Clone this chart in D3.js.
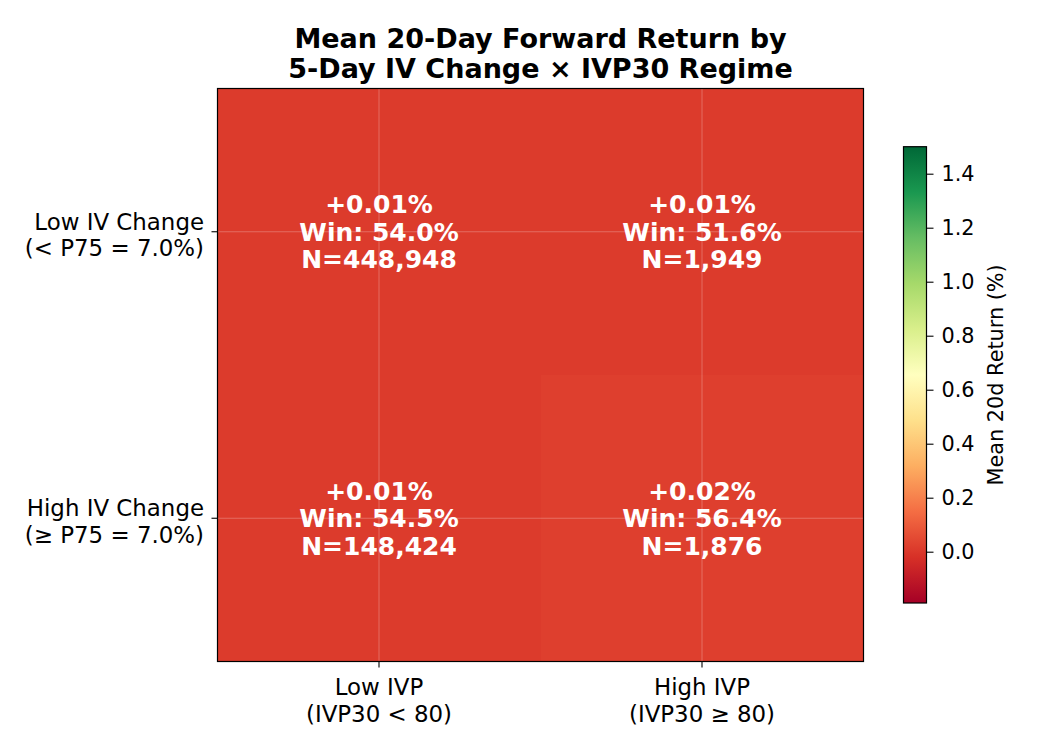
<!DOCTYPE html>
<html>
<head>
<meta charset="utf-8">
<script src="https://cdn.jsdelivr.net/npm/d3@7"></script>
<style>
  html, body { margin: 0; padding: 0; background: #ffffff; }
  svg { display: block; font-family: "DejaVu Sans", sans-serif; }
</style>
</head>
<body>
<svg id="chart" width="1050" height="750"></svg>
<script>
// ---- data ----
const rowKeys = ["lowIV", "highIV"];
const colKeys = ["lowIVP", "highIVP"];
const rowLabels = [["Low IV Change", "(< P75 = 7.0%)"], ["High IV Change", "(\u2265 P75 = 7.0%)"]];
const colLabels = [["Low IVP", "(IVP30 < 80)"], ["High IVP", "(IVP30 \u2265 80)"]];
const meanReturns = [[0.01, 0.01], [0.01, 0.02]];
const winRates = [[54.0, 51.6], [54.5, 56.4]];
const counts = [[448948, 1949], [148424, 1876]];
const colorDomain = [-0.19, 1.5];
const colorbarTicks = [0.0, 0.2, 0.4, 0.6, 0.8, 1.0, 1.2, 1.4];
const titleLines = ["Mean 20-Day Forward Return by", "5-Day IV Change \u00d7 IVP30 Regime"];
const colorbarLabel = "Mean 20d Return (%)";
// matplotlib RdYlGn anchor colours (linear segments)
const rdylgn = ["#a50026", "#d73027", "#f46d43", "#fdae61", "#fee08b", "#ffffbf",
                "#d9ef8b", "#a6d96a", "#66bd63", "#1a9850", "#006837"];

// ---- layout ----
const svg = d3.select("#chart");
const plot = { left: 217.5, right: 863.5, top: 88.5, bottom: 661.5 };
const cb = { left: 903.5, right: 926.5, top: 146.7, bottom: 603 };

const x = d3.scaleBand().domain(colKeys).range([plot.left, plot.right]).padding(0);
const y = d3.scaleBand().domain(rowKeys).range([plot.top, plot.bottom]).padding(0);

const interp = d3.piecewise(d3.interpolateRgb, rdylgn);
const norm = d3.scaleLinear().domain(colorDomain).range([0, 1]).clamp(true);
const color = v => interp(norm(v));

// ---- cells ----
const cells = [];
rowKeys.forEach((r, i) => colKeys.forEach((c, j) => cells.push({
  r, c, mean: meanReturns[i][j], win: winRates[i][j], n: counts[i][j]
})));

svg.append("g").attr("shape-rendering", "crispEdges")
  .selectAll("rect").data(cells).join("rect")
  .attr("x", d => x(d.c)).attr("y", d => y(d.r))
  .attr("width", x.bandwidth()).attr("height", y.bandwidth())
  .attr("fill", d => color(d.mean));

// grid lines at tick centres
const grid = svg.append("g").attr("stroke", "#ffffff").attr("stroke-opacity", 0.25).attr("stroke-width", 1);
colKeys.forEach(c => grid.append("line")
  .attr("x1", x(c) + x.bandwidth() / 2).attr("x2", x(c) + x.bandwidth() / 2)
  .attr("y1", plot.top).attr("y2", plot.bottom));
rowKeys.forEach(r => grid.append("line")
  .attr("y1", y(r) + y.bandwidth() / 2).attr("y2", y(r) + y.bandwidth() / 2)
  .attr("x1", plot.left).attr("x2", plot.right));

// cell annotations
const fmtN = d3.format(",");
const ann = svg.append("g").attr("fill", "#ffffff").attr("font-weight", "bold")
  .attr("font-size", 25).attr("text-anchor", "middle");
cells.forEach(d => {
  const cx = x(d.c) + x.bandwidth() / 2;
  const cy = y(d.r) + y.bandwidth() / 2;
  const lines = [
    (d.mean >= 0 ? "+" : "") + d.mean.toFixed(2) + "%",
    "Win: " + d.win.toFixed(1) + "%",
    "N=" + fmtN(d.n)
  ];
  lines.forEach((t, k) => ann.append("text")
    .attr("x", cx).attr("y", cy + 9 + (k - 1) * 27.5).text(t));
});

// frame
svg.append("rect").attr("x", plot.left).attr("y", plot.top)
  .attr("width", plot.right - plot.left).attr("height", plot.bottom - plot.top)
  .attr("fill", "none").attr("stroke", "#000").attr("stroke-width", 1.2);

// ---- axes ----
const xAxis = svg.append("g").attr("transform", `translate(0,${plot.bottom})`)
  .call(d3.axisBottom(x).tickSize(6).tickFormat(""));
xAxis.select(".domain").remove();
xAxis.selectAll(".tick line").attr("stroke", "#000").attr("stroke-width", 1.1);
colKeys.forEach((c, j) => {
  const t = svg.append("text").attr("text-anchor", "middle").attr("font-size", 22.9).attr("fill", "#000");
  colLabels[j].forEach((s, k) => t.append("tspan")
    .attr("x", x(c) + x.bandwidth() / 2).attr("y", 695 + k * 26.5).text(s));
});

const yAxis = svg.append("g").attr("transform", `translate(${plot.left},0)`)
  .call(d3.axisLeft(y).tickSize(6).tickFormat(""));
yAxis.select(".domain").remove();
yAxis.selectAll(".tick line").attr("stroke", "#000").attr("stroke-width", 1.1);
rowKeys.forEach((r, i) => {
  const cy = y(r) + y.bandwidth() / 2;
  const t = svg.append("text").attr("text-anchor", "end").attr("font-size", 22.9).attr("fill", "#000");
  rowLabels[i].forEach((s, k) => t.append("tspan")
    .attr("x", 204).attr("y", cy - 2 + k * 26.5).text(s));
});

// ---- title ----
const title = svg.append("text").attr("text-anchor", "middle").attr("font-weight", "bold")
  .attr("font-size", 27).attr("fill", "#000");
titleLines.forEach((s, k) => title.append("tspan")
  .attr("x", (plot.left + plot.right) / 2).attr("y", 47.5 + k * 30).text(s));

// ---- colorbar ----
const defs = svg.append("defs");
const grad = defs.append("linearGradient").attr("id", "cbgrad")
  .attr("x1", 0).attr("y1", 1).attr("x2", 0).attr("y2", 0);
rdylgn.forEach((c, k) => grad.append("stop")
  .attr("offset", k / (rdylgn.length - 1)).attr("stop-color", c));
svg.append("rect").attr("x", cb.left).attr("y", cb.top)
  .attr("width", cb.right - cb.left).attr("height", cb.bottom - cb.top)
  .attr("fill", "url(#cbgrad)").attr("stroke", "#000").attr("stroke-width", 1.2);

const cbScale = d3.scaleLinear().domain(colorDomain).range([cb.bottom, cb.top]);
const cbAxis = svg.append("g").attr("transform", `translate(${cb.right},0)`)
  .call(d3.axisRight(cbScale).tickValues(colorbarTicks).tickFormat(d3.format(".1f"))
    .tickSize(7).tickPadding(8));
cbAxis.select(".domain").remove();
cbAxis.selectAll(".tick line").attr("stroke", "#000").attr("stroke-width", 1.1);
cbAxis.selectAll(".tick text").attr("font-size", 20.8).attr("fill", "#000")
  .attr("font-family", "DejaVu Sans, sans-serif");

svg.append("text").attr("transform", `translate(1003,${(cb.top + cb.bottom) / 2}) rotate(-90)`)
  .attr("text-anchor", "middle").attr("font-size", 20.8).attr("fill", "#000").text(colorbarLabel);
</script>
</body>
</html>
